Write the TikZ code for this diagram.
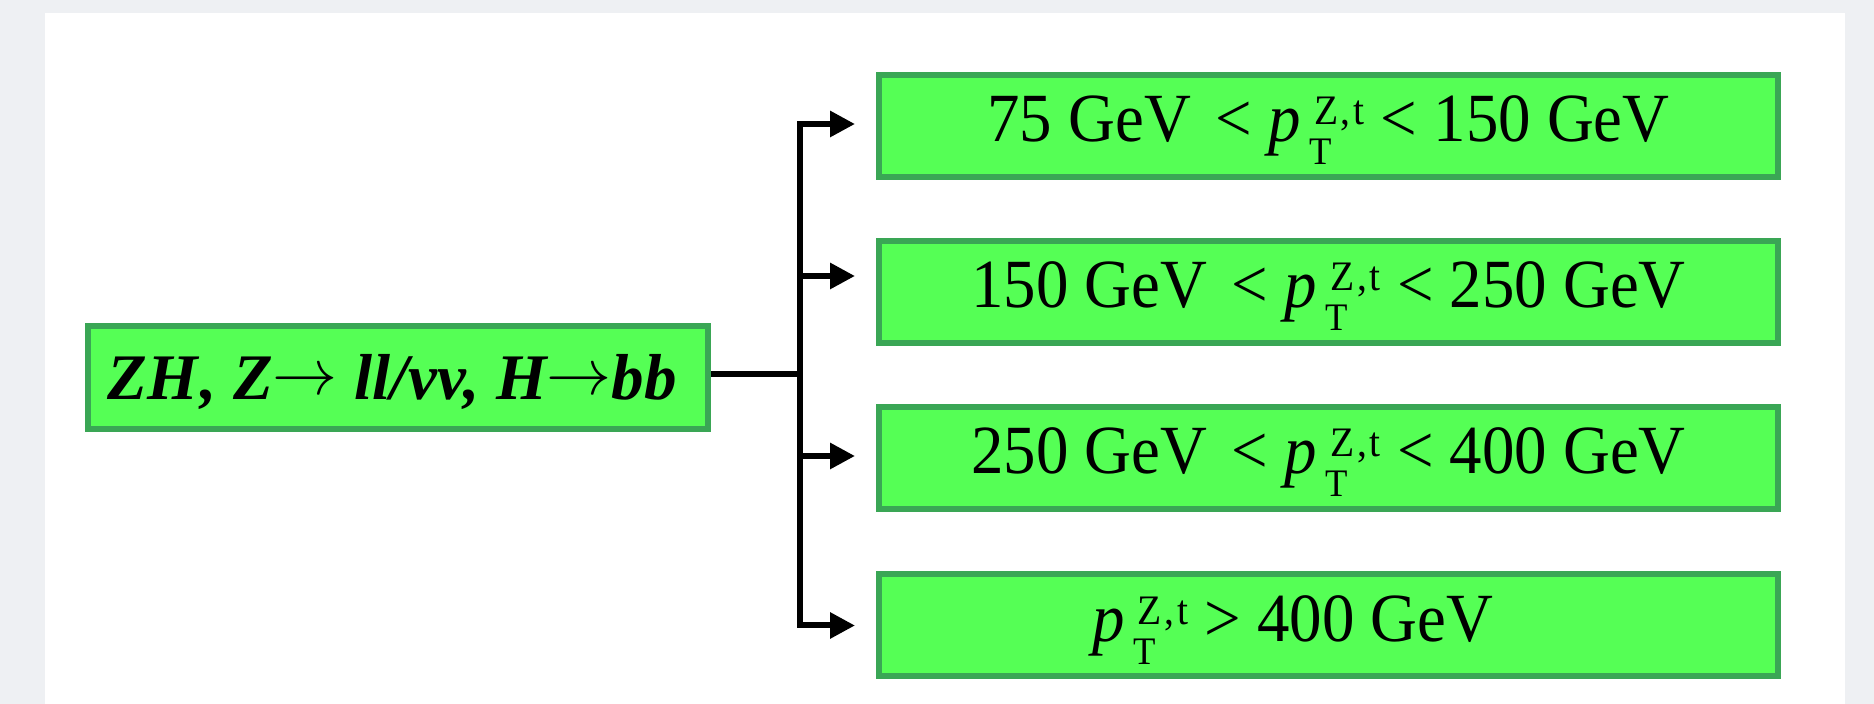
\documentclass[tikz,border=0pt]{standalone}
\usepackage{fix-cm}
\usepackage{fontspec}
\setmainfont{Liberation Serif}
\usetikzlibrary{arrows.meta}
\definecolor{boxfill}{RGB}{85,255,85}
\definecolor{boxline}{RGB}{58,166,85}
\definecolor{pagegrey}{RGB}{238,240,243}
\newcommand\supsz{\fontsize{21}{21}\selectfont}
\newcommand\subsz{\fontsize{19.5}{20}\selectfont}
\newcommand\ptzt{\textit{p}\setbox0\hbox{\supsz Z\kern1.5pt,\kern1.5pt t}\setbox2\hbox{\subsz T}%
  \rlap{\kern7pt\raisebox{8.5pt}{\copy0}}\rlap{\kern4.5pt\raisebox{-11.5pt}{\copy2}}\kern7pt\kern\wd0}
\newcommand\rarr{\raisebox{2.5pt}{$\rightarrow$}}
\newcommand\cond[1]{\scalebox{0.94}[1]{#1}}
\begin{document}
\begin{tikzpicture}[x=0.5pt,y=-0.5pt,
  bin/.style={draw=boxline, fill=boxfill, line width=3pt, inner sep=0pt,
    minimum width=449.5pt, minimum height=51pt,
    font=\fontsize{34.5}{40}\selectfont, text height=22pt, text depth=6pt},
  src/.style={draw=boxline, fill=boxfill, line width=3pt, inner sep=0pt,
    minimum width=310pt, minimum height=51.5pt,
    font=\fontsize{32.5}{40}\selectfont\bfseries\itshape, text height=26pt, text depth=3.5pt},
  conn/.style={line width=3pt, black},
  arr/.style={conn, -{Triangle[length=12.5pt,width=12.5pt]}, shorten >=10.5pt}
]
\fill[pagegrey] (0,0) rectangle (1874,704);
\fill[white] (45,13) rectangle (1845,704);
\useasboundingbox (0,0) rectangle (1874,704);

\node[src] (zh) at (398,377.5) {ZH\kern1.5pt, Z\rarr{} ll/vv, H\rarr{}bb\kern6pt};
\node[bin] (b1) at (1328.5,126) {\cond{75 GeV\hspace{4.5pt} < \ptzt{} < 150 GeV}};
\node[bin] (b2) at (1328.5,292) {\cond{150 GeV\hspace{4.5pt} < \ptzt{} < 250 GeV}};
\node[bin] (b3) at (1328.5,458) {\cond{250 GeV\hspace{4.5pt} < \ptzt{} < 400 GeV}};
\node[bin] (b4) at (1328.5,625.5) {\cond{\ptzt{} > 400 GeV\kern38pt}};

\coordinate (split) at (800,374);
\coordinate (a1) at ([yshift=1pt]b1.west);
\coordinate (a2) at ([yshift=8pt]b2.west);
\coordinate (a3) at ([yshift=1pt]b3.west);
\coordinate (a4) at (b4.west);

\draw[conn] (zh.east |- split) -- (split);
\draw[conn, line cap=rect] (split |- a1) -- (split |- a4);
\draw[arr] (split |- a1) -- (a1);
\draw[arr] (split |- a2) -- (a2);
\draw[arr] (split |- a3) -- (a3);
\draw[arr] (split |- a4) -- (a4);
\end{tikzpicture}
\end{document}
